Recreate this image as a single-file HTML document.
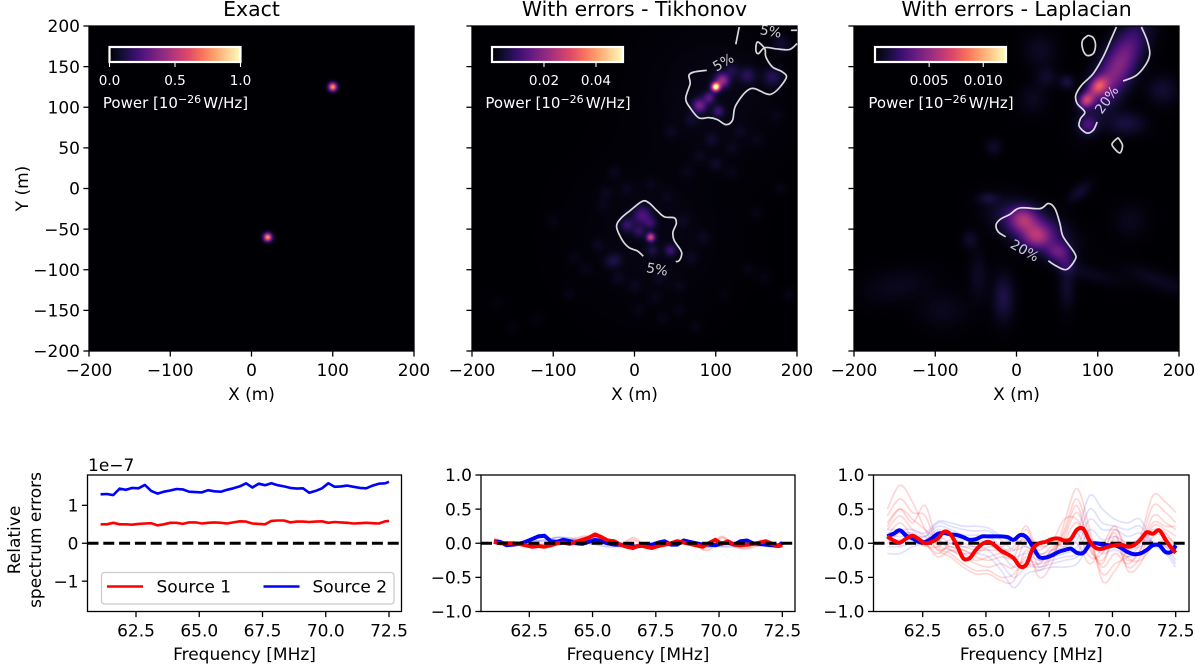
<!DOCTYPE html>
<html lang="en">
<head>
<meta charset="utf-8">
<title>Source power maps and relative spectrum errors</title>
<style>
html,body{margin:0;padding:0;background:#fff;}
#figure{position:relative;width:1200px;height:665px;overflow:hidden;background:#fff;font-family:"DejaVu Sans","Liberation Sans",sans-serif;filter:blur(0.35px);}
canvas{position:absolute;}
svg{position:absolute;left:0;top:0;}
text{font-family:"DejaVu Sans","Liberation Sans",sans-serif;}
</style>
</head>
<body>
<div id="figure">
<canvas id="map-exact" width="325" height="325" style="left:89px;top:26px"></canvas>
<canvas id="map-tik" width="325" height="325" style="left:472px;top:26px"></canvas>
<canvas id="map-lap" width="325" height="325" style="left:854px;top:26px"></canvas>
<svg id="plot" width="1200" height="665" viewBox="0 0 1200 665">
<defs>
<linearGradient id="magma" x1="0" x2="1" y1="0" y2="0">
<stop offset="0" stop-color="#000004"/><stop offset=".1" stop-color="#140e36"/><stop offset=".2" stop-color="#3b0f70"/><stop offset=".3" stop-color="#641a80"/><stop offset=".4" stop-color="#8c2981"/><stop offset=".5" stop-color="#b73779"/><stop offset=".6" stop-color="#de4968"/><stop offset=".7" stop-color="#f7705c"/><stop offset=".8" stop-color="#fe9f6d"/><stop offset=".9" stop-color="#fecf92"/><stop offset="1" stop-color="#fcfdbf"/>
</linearGradient>
</defs>
</svg>
</div>
<script>
// ---------- heatmap data (data coords, metres; values in 1e-26 W/Hz) ----------
const exactBlobX = [100, 20];
const exactBlobY = [125, -60];
const exactBlobAmp = [0.8, 0.8];
const exactBlobSigma = [3.6, 3.6];

const tikBlobX = [100,108,92,80,103,139,170,120,180,20,9.6,-9,5.5,20,44.5,22,-23, 100,20, -30,-45,-20,-60,-75,0,30,55,70,85,60,40,20,-10,-40,80,100,120,150,175,130,95,70,45,65,-80,-120,-150,-170,-100,-25,5,35,75,110,140,160,190,120,150,180,55,25,-35,-5];
const tikBlobY = [125,133,112,102,95,139,137,145,178,-60,-33,-45,-53,-43,-76,-76,-88, 115,-60, -90,-70,-110,-100,-85,-120,-110,-120,-85,-60,-40,-10,5,0,-20,40,30,50,60,90,70,60,85,70,20,-130,-160,-170,-140,-40,20,-150,-160,-170,-130,-100,-110,-130,20,-30,0,-150,-135,-5,30];
const tikBlobAmp = [.052,.02,.012,.016,.009,.007,.007,.005,.004,.028,.011,.008,.007,.007,.009,.005,.004, .0018,.0016, .003,.002,.002,.0015,.0015,.002,.002,.0015,.002,.002,.002,.0015,.0015,.002,.0015,.002,.003,.002,.0015,.0015,.002,.003,.003,.002,.0015,.0015,.001,.001,.001,.0015,.002,.0015,.0015,.0015,.001,.0015,.0015,.0015,.0015,.0015,.0015,.0015,.0015,.002,.002];
const tikBlobSigma = [3.6,6,5,6,5,7,8,6,8,3.6,8,6,5,5,5,5,6, 55,55, 6,6,6,6,6,6,6,6,6,6,6,6,6,6,6,6,6,6,6,6,6,6,6,6,6,6,6,6,6,6,6,6,6,6,6,6,6,6,6,6,6,6,6,6];

const lapBlobX = [100.5,86,125,88,135,180,62,25,18,8,51,61,-16,-47,62,90,78,-28,-35,-57,-147,29,172,37,-90,140,20];
const lapBlobY = [126,108.6,150,78,80,121,131,-60,-47,-37,-78,-92,-135,-108,-120,-105,-4,51,-12,-63,-120,170,-112,137,-150,-40,110];
const lapBlobAmp = [.0055,.0058,.0046,.0024,.0014,.0011,.0014,.0034,.0034,.0030,.0030,.0014,.0016,.0008,.0010,.0006,.0010,.0009,.0011,.0009,.0006,.0008,.0007,.0009,.0006,.0006,.0007];
const lapBlobSigmaA = [9,7,38,8,16,13,6,12,30,11,10,8,9,8,7,30,12,7,9,7,30,14,30,9,20,14,12];
const lapBlobSigmaB = [7,6,14,8,10,12,6,10,15,10,8,8,20,20,20,7,6,7,5,8,14,14,8,9,15,14,12];
const lapBlobAngle = [45,45,62,0,0,0,0,0,-25,0,0,0,0,0,0,-15,40,0,0,0,10,0,-20,0,0,0,0];

// ---------- contour data (data coords) ----------
const tikContours = [
 [[10.8,-83.3],[3.4,-76.8],[-6.8,-72.7],[-15,-63.6],[-22,-47.2],[-17,-37],[-4.8,-26.7],[9.6,-15.7],[17.8,-17.7],[28,-27.6],[37,-35],[48.7,-36],[51.5,-43],[47.4,-53.4],[48.7,-63.6],[56.9,-76],[58,-82],[54.8,-89],[50.7,-90]],
 [[89,145.5],[73.3,143.4],[67,139.3],[68.4,129],[63,110.6],[69.2,98.3],[79.5,86.8],[91.8,87.3],[102,84.8],[112.4,78.6],[120.6,84],[124.7,102.4],[143.2,122.9],[167.8,116],[186.3,135.2],[182.2,143.4],[169.9,149.6],[161.7,161.9],[160.4,172],[151.4,180.3],[149.4,170],[152.6,166],[160.4,173.4],[174,172],[190.5,171],[200,178.3]],
 [[124.7,177.5],[128.8,198.8]],
 [[192.5,194.7],[200,194.7]]
];
const tikContourLabelX = [28,109,167.8];
const tikContourLabelY = [-99,155.7,193.9];
const tikContourLabelAngle = [10,-30,10];
const tikContourLabelText = ["5%","5%","5%"];

const lapContours = [
 [[-13.3,-59.5],[-22.3,-53.4],[-25.2,-45.2],[-20.3,-38.2],[-8,-31.7],[4.3,-23.9],[28.9,-24.7],[39.1,-18.5],[47.3,-24.7],[53.4,-43.1],[57.5,-59.5],[71.8,-80],[71.8,-88.2],[61.6,-99.7],[49.3,-95.6],[39.1,-89]],
 [[131.2,132.3],[147.6,139.3],[159.9,153.7],[164,166],[160.7,182.4],[153.7,198.8]],
 [[123,198.8],[114.8,180.3],[106.6,161.9],[94.4,141.4],[80,127],[73,114.7],[74.7,104.5],[84.1,94.2],[78.8,86],[77.2,76.6],[86.2,68.4],[94.4,71.7],[99.3,81.9]],
 [[88.2,188.5],[94.4,185.7],[97.2,176.2],[94.4,166],[86.2,164],[81.3,172.1],[81.3,182.4],[88.2,188.5]],
 [[125,62.7],[130.4,53.2],[127.1,43.8],[118.9,51.2],[118.1,56.1],[125,62.7]]
];
const lapContourLabelX = [10.4,110.7];
const lapContourLabelY = [-75.9,109.4];
const lapContourLabelAngle = [30,-55];
const lapContourLabelText = ["20%","20%"];

// ---------- axis tick data ----------
const mapXTicks = [-200,-100,0,100,200];
const mapYTicks = [-200,-150,-100,-50,0,50,100,150,200];
const freqTicks = [62.5,65,67.5,70,72.5];
const absErrTicks = [-1,0,1];
const relErrTicks = [-1,-0.5,0,0.5,1];
const exactBarTicks = [0,0.5,1];
const exactBarLabels = ["0.0","0.5","1.0"];
const tikBarTicks = [0.02,0.04];
const tikBarLabels = ["0.02","0.04"];
const lapBarTicks = [0.005,0.010];
const lapBarLabels = ["0.005","0.010"];
const panelTitles = ["Exact","With errors - Tikhonov","With errors - Laplacian"];

// ---------- spectrum series ----------
const freqs = [61.1,61.35,61.6,61.85,62.1,62.35,62.6,62.85,63.1,63.35,63.6,63.85,64.1,64.35,64.6,64.85,65.1,65.35,65.6,65.85,66.1,66.35,66.6,66.85,67.1,67.35,67.6,67.85,68.1,68.35,68.6,68.85,69.1,69.35,69.6,69.85,70.1,70.35,70.6,70.85,71.1,71.35,71.6,71.85,72.1,72.35,72.5];
const freqsCoarse = [61.1,61.6,62.1,62.6,63.1,63.6,64.1,64.6,65.1,65.6,66.1,66.6,67.1,67.6,68.1,68.6,69.1,69.6,70.1,70.6,71.1,71.6,72.1,72.5];

const exactSource1 = [.50,.50,.54,.50,.50,.49,.51,.52,.53,.47,.50,.54,.54,.51,.55,.55,.52,.54,.55,.54,.52,.55,.58,.57,.52,.51,.50,.59,.60,.60,.55,.57,.57,.56,.57,.58,.54,.56,.55,.54,.52,.53,.54,.53,.52,.58,.59];
const exactSource2 = [1.29,1.30,1.27,1.44,1.41,1.46,1.45,1.54,1.38,1.31,1.36,1.39,1.43,1.42,1.36,1.35,1.34,1.40,1.37,1.36,1.41,1.45,1.50,1.58,1.47,1.57,1.53,1.58,1.53,1.50,1.46,1.44,1.45,1.33,1.38,1.45,1.58,1.49,1.50,1.52,1.49,1.46,1.45,1.52,1.57,1.58,1.62];

const tikSource1 = [.02,0,0,0,-.01,-.03,-.05,-.04,-.05,-.03,0,.01,-.01,.02,.05,.08,.13,.09,.04,.03,-.02,-.05,-.07,-.03,-.05,-.07,-.04,-.02,0,.03,.01,-.01,-.03,-.05,0,.05,-.01,.03,-.02,-.03,-.02,-.01,.01,.03,-.01,-.04,-.03];
const tikSource2 = [.03,.02,-.03,-.02,-.01,.02,.06,.10,.11,.03,.02,.05,.03,0,-.01,.02,.05,.03,0,-.02,-.02,-.03,-.05,-.04,-.03,-.02,.01,.03,-.02,-.02,.04,.02,0,-.02,-.02,-.03,0,.01,-.02,.03,.04,0,-.01,-.02,-.03,-.04,.01];
const tikFaintRed = [
 [.08,0,0,-.02,0,.05,.05,.1,.1,.02,-.02,.08,-.03,-.02,.02,0,-.05,-.1,.08,-.05,-.08,-.03,-.02,-.04],
 [.04,.02,-.03,-.03,-.03,.03,.03,.07,.08,.03,-.05,.05,-.05,-.05,0,.03,-.03,-.06,.1,-.03,-.06,0,0,-.02]
];
const tikFaintBlue = [
 [.04,-.02,0,.04,.03,.09,.06,.02,-.02,-.05,-.05,-.07,-.05,-.03,-.01,.01,-.03,-.05,-.04,-.02,-.02,-.03,-.05,-.02],
 [0,.01,.02,.02,.05,.08,.08,.03,.02,-.02,-.03,-.04,-.03,-.05,-.03,.03,-.01,-.02,-.05,-.05,-.01,-.04,-.02,0]
];

const lapSource1 = [.10,.04,.01,.07,.11,.06,0,.02,.07,.17,.13,-.03,-.22,-.22,-.10,-.01,.02,-.03,-.11,-.16,-.22,-.34,-.31,-.08,0,.02,.06,.07,.04,.06,.20,.21,.03,-.07,-.08,-.05,-.03,-.02,-.05,-.03,.05,.16,.14,.19,.05,-.08,-.14];
const lapSource2 = [.10,.14,.19,.11,.07,.02,.02,.07,.14,.15,.13,.12,.09,.05,.06,.10,.10,.10,.10,.09,.05,.12,.09,-.05,-.20,-.21,-.18,-.13,-.10,-.08,-.14,-.14,-.02,0,-.02,-.03,-.03,-.07,-.13,-.16,-.15,-.10,-.03,-.03,-.13,-.12,-.03];
const lapFaintRed = [
 [.5,.85,.6,.2,-.1,-.2,-.35,-.45,-.45,-.55,-.55,-.1,-.5,-.3,.3,.8,.2,-.55,-.4,-.1,.1,.7,.6,.45],
 [.4,.65,.45,.4,-.05,-.15,-.3,-.4,-.4,-.5,-.45,-.2,-.4,-.2,.2,.65,.1,-.45,-.3,-.2,0,.55,.45,.3],
 [.3,.5,.3,.55,0,-.1,-.2,-.3,-.35,-.3,-.35,.05,-.35,-.15,.1,.45,0,-.35,-.15,-.3,-.1,.4,.3,.2],
 [.2,.4,.2,.1,-.1,-.05,-.1,-.2,-.25,-.2,-.2,.2,-.25,-.1,.05,.3,-.1,-.25,.05,-.35,-.2,.25,.2,.1],
 [.1,.3,.1,0,-.15,0,-.05,-.1,-.1,-.1,-.05,.25,-.15,-.05,0,.15,-.2,-.15,.15,-.4,-.3,.1,.1,0],
 [0,.15,.05,-.05,-.05,.05,0,-.05,0,-.05,.05,-.05,-.1,0,-.05,0,-.3,-.05,.25,-.2,-.25,-.05,.05,-.1],
 [.05,.2,.1,0,-.2,-.1,-.15,-.25,-.2,-.15,-.25,-.3,-.3,-.1,.15,.55,-.05,-.3,.1,-.25,-.1,.3,.25,.25],
 [.25,.5,.35,.2,.05,-.05,-.1,-.15,-.05,-.1,-.1,.1,-.05,.02,.35,.35,.05,-.1,.2,-.05,.05,.2,.15,-.05]
];
const lapFaintBlue = [
 [-.15,-.15,-.05,0,.05,-.1,-.15,-.15,-.2,-.4,-.65,-.45,-.4,-.35,-.35,-.3,-.05,-.15,-.1,-.2,-.15,-.05,-.15,-.35],
 [-.05,-.05,0,0,.1,0,-.05,-.05,-.1,-.3,-.5,-.35,-.35,-.3,-.25,-.2,.05,-.05,0,-.1,-.05,0,-.1,-.3],
 [.05,.05,.05,.05,.2,.1,.05,.05,0,-.15,-.35,-.25,-.3,-.25,-.2,-.15,.2,.05,.1,0,.05,.02,-.05,-.25],
 [.1,.1,.1,.1,.25,.2,.12,.12,.1,-.05,-.2,-.15,-.25,-.2,-.15,-.05,.35,.2,.2,.1,.15,0,-.05,-.15],
 [.15,.15,.15,.1,.3,.25,.2,.18,.18,.05,-.1,-.05,-.2,-.15,-.1,.05,.5,.3,.25,.2,.25,0,-.03,-.1],
 [.2,.2,.2,.15,.32,.3,.25,.25,.22,.1,0,.05,-.15,-.1,-.05,.15,.7,.5,.35,.3,.35,.02,-.02,-.05]
];

// ---------- helpers ----------
const NS = "http://www.w3.org/2000/svg";
const svg = document.getElementById("plot");
function mk(tag, attrs, parent){
  const e = document.createElementNS(NS, tag);
  for (const k in attrs) e.setAttribute(k, attrs[k]);
  (parent || svg).appendChild(e);
  return e;
}
function minusFmt(s){ return String(s).replace("-", "\u2212"); }
const magmaStops = [[0,0,4],[20,14,54],[59,15,112],[100,26,128],[140,41,129],[183,55,121],[222,73,104],[247,112,92],[254,159,109],[254,207,146],[252,253,191]];
function magma(t){
  t = Math.max(0, Math.min(1, t)) * 10;
  const i = Math.min(9, Math.floor(t)), f = t - i, a = magmaStops[i], b = magmaStops[i + 1];
  return [a[0] + (b[0] - a[0]) * f, a[1] + (b[1] - a[1]) * f, a[2] + (b[2] - a[2]) * f];
}
function drawMap(id, vmax, xs, ys, amps, sa, sb, angs){
  const c = document.getElementById(id), ctx = c.getContext("2d");
  const img = ctx.createImageData(325, 325);
  const pre = xs.map((_, k) => {
    const th = (angs ? angs[k] : 0) * Math.PI / 180;
    return [Math.cos(th), Math.sin(th), sa[k], sb ? sb[k] : sa[k]];
  });
  for (let py = 0; py < 325; py++) {
    const dy = 200 - (py + 0.5) / 325 * 400;
    for (let px = 0; px < 325; px++) {
      const dx = -200 + (px + 0.5) / 325 * 400;
      let v = 0;
      for (let k = 0; k < xs.length; k++) {
        const ex = dx - xs[k], ey = dy - ys[k], p = pre[k];
        const u = (ex * p[0] + ey * p[1]) / p[2], w = (-ex * p[1] + ey * p[0]) / p[3];
        const q = u * u + w * w;
        if (q < 25) v += amps[k] * Math.exp(-0.5 * q);
      }
      const col = magma(v / vmax), o = (py * 325 + px) * 4;
      img.data[o] = col[0]; img.data[o + 1] = col[1]; img.data[o + 2] = col[2]; img.data[o + 3] = 255;
    }
  }
  ctx.putImageData(img, 0, 0);
}
function smoothPath(pts){
  let d = "M" + pts[0][0].toFixed(1) + " " + pts[0][1].toFixed(1);
  for (let i = 0; i < pts.length - 1; i++) {
    const p0 = pts[Math.max(0, i - 1)], p1 = pts[i], p2 = pts[i + 1], p3 = pts[Math.min(pts.length - 1, i + 2)];
    const c1x = p1[0] + (p2[0] - p0[0]) / 6, c1y = p1[1] + (p2[1] - p0[1]) / 6;
    const c2x = p2[0] - (p3[0] - p1[0]) / 6, c2y = p2[1] - (p3[1] - p1[1]) / 6;
    d += "C" + c1x.toFixed(1) + " " + c1y.toFixed(1) + " " + c2x.toFixed(1) + " " + c2y.toFixed(1) + " " + p2[0].toFixed(1) + " " + p2[1].toFixed(1);
  }
  return d;
}

// ---------- heatmaps ----------
drawMap("map-exact", 1, exactBlobX, exactBlobY, exactBlobAmp, exactBlobSigma);
drawMap("map-tik", 0.0504, tikBlobX, tikBlobY, tikBlobAmp, tikBlobSigma);
drawMap("map-lap", 0.0121, lapBlobX, lapBlobY, lapBlobAmp, lapBlobSigmaA, lapBlobSigmaB, lapBlobAngle);

// ---------- top panels ----------
const TOP = 26, SIZE = 325, TICK_FONT = 17;
function drawMapAxes(x0, title, showY, key){
  const sx = v => x0 + (v + 200) / 400 * SIZE;
  const sy = v => TOP + (200 - v) / 400 * SIZE;
  const g = mk("g", {});
  
  
  const frame = mk("rect", {x:x0, y:TOP, width:SIZE, height:SIZE, fill:"none", stroke:"#000", "stroke-width":1.3}, g);
  
  
  const ttl = mk("text", {x:x0 + SIZE / 2, y:16, "font-size":20.4, "text-anchor":"middle", fill:"#000"}, g);
  ttl.textContent = title;
  
  
  mapXTicks.forEach(v => {
    const t = mk("line", {x1:sx(v), x2:sx(v), y1:TOP + SIZE, y2:TOP + SIZE + 5.6, stroke:"#000", "stroke-width":1.3}, g);
    
    
    const l = mk("text", {x:sx(v), y:TOP + SIZE + 25, "font-size":TICK_FONT, "text-anchor":"middle", fill:"#000"}, g);
    l.textContent = minusFmt(v);
    
    
  });
  mapYTicks.forEach(v => {
    const t = mk("line", {x1:x0 - 5.6, x2:x0, y1:sy(v), y2:sy(v), stroke:"#000", "stroke-width":1.3}, g);
    
    
    if (showY) {
      const l = mk("text", {x:x0 - 9, y:sy(v) + 6.2, "font-size":TICK_FONT, "text-anchor":"end", fill:"#000"}, g);
      l.textContent = minusFmt(v);
      
      
    }
  });
  const xt = mk("text", {x:x0 + SIZE / 2, y:400, "font-size":TICK_FONT, "text-anchor":"middle", fill:"#000"}, g);
  xt.textContent = "X (m)";
  
  
  if (showY) {
    const yt = mk("text", {x:0, y:0, "font-size":TICK_FONT, "text-anchor":"middle", fill:"#000", transform:"translate(28 188.5) rotate(-90)"}, g);
    yt.textContent = "Y (m)";
    
    
  }
  return {sx, sy};
}
const axExact = drawMapAxes(89, panelTitles[0], true, "exact");
const axTik = drawMapAxes(472, panelTitles[1], false, "tikhonov");
const axLap = drawMapAxes(854, panelTitles[2], false, "laplacian");

function drawContours(ax, lines, lx, ly, la, lt, key){
  const g = mk("g", {});
  
  
  lines.forEach(pts => {
    const p = mk("path", {d:smoothPath(pts.map(q => [ax.sx(q[0]), ax.sy(q[1])])), fill:"none", stroke:"#fff", "stroke-opacity":.85, "stroke-width":1.7}, g);
    
    
  });
  lx.forEach((v, i) => {
    const X = ax.sx(v), Y = ax.sy(ly[i]);
    const t = mk("text", {x:0, y:5, "font-size":13.6, "text-anchor":"middle", fill:"#fff", "fill-opacity":.8, transform:"translate(" + X + " " + Y + ") rotate(" + la[i] + ")"}, g);
    t.textContent = lt[i];
    
    
  });
}
drawContours(axTik, tikContours, tikContourLabelX, tikContourLabelY, tikContourLabelAngle, tikContourLabelText, "tikhonov");
drawContours(axLap, lapContours, lapContourLabelX, lapContourLabelY, lapContourLabelAngle, lapContourLabelText, "laplacian");

function drawColorbar(x0, v0, v1, ticks, labels, key){
  const W = 131, Y0 = 47, H = 15;
  const g = mk("g", {});
  
  
  const r = mk("rect", {x:x0, y:Y0, width:W, height:H, fill:"url(#magma)", stroke:"#fff", "stroke-width":2.2}, g);
  
  
  ticks.forEach((v, i) => {
    const X = x0 + (v - v0) / (v1 - v0) * W;
    const t = mk("line", {x1:X, x2:X, y1:Y0 + H, y2:Y0 + H + 5, stroke:"#fff", "stroke-width":1.1}, g);
    
    
    const l = mk("text", {x:X, y:85, "font-size":13.6, "text-anchor":"middle", fill:"#fff"}, g);
    l.textContent = labels[i];
    
    
  });
  const c = mk("text", {x:x0 + 66, y:108, "font-size":15, "text-anchor":"middle", fill:"#fff"}, g);
  
  
  const a = mk("tspan", {}, c); a.textContent = "Power [10";
  const b = mk("tspan", {dy:-5, "font-size":11}, c); b.textContent = "\u221226";
  const d = mk("tspan", {dy:5, dx:2}, c); d.textContent = "W/Hz]";
}
drawColorbar(109.5, 0, 1, exactBarTicks, exactBarLabels, "exact");
drawColorbar(492, 0, 0.0504, tikBarTicks, tikBarLabels, "tikhonov");
drawColorbar(875, 0, 0.0121, lapBarTicks, lapBarLabels, "laplacian");

// ---------- bottom panels ----------
const BT = 475, BB = 611.5;
function drawSpecAxes(x0, x1, f625, yTicks, yDomain, fmt, key){
  const fx = f => f625 + (f - 62.5) * 25.3;
  const fy = v => BT + (yDomain[1] - v) / (yDomain[1] - yDomain[0]) * (BB - BT);
  const g = mk("g", {});
  
  
  const bg = mk("g", {}, g);
  
  
  const fr = mk("rect", {x:x0, y:BT, width:x1 - x0, height:BB - BT, fill:"none", stroke:"#000", "stroke-width":1.3}, g);
  
  
  freqTicks.forEach(v => {
    const t = mk("line", {x1:fx(v), x2:fx(v), y1:BB, y2:BB + 5.6, stroke:"#000", "stroke-width":1.3}, g);
    
    
    const l = mk("text", {x:fx(v), y:BB + 25, "font-size":TICK_FONT, "text-anchor":"middle", fill:"#000"}, g);
    l.textContent = v.toFixed(1);
    
    
  });
  yTicks.forEach(v => {
    const t = mk("line", {x1:x0 - 5.6, x2:x0, y1:fy(v), y2:fy(v), stroke:"#000", "stroke-width":1.3}, g);
    
    
    const l = mk("text", {x:x0 - 9, y:fy(v) + 6.2, "font-size":TICK_FONT, "text-anchor":"end", fill:"#000"}, g);
    l.textContent = minusFmt(fmt(v));
    
    
  });
  const xt = mk("text", {x:(x0 + x1) / 2, y:660, "font-size":TICK_FONT, "text-anchor":"middle", fill:"#000"}, g);
  xt.textContent = "Frequency [MHz]";
  
  
  return {fx, fy, bg, x0, x1};
}
function drawSeries(ax, xs, ys, color, width, opacity, name, smooth){
  const pts = ys.map((v, i) => [ax.fx(xs[i]), ax.fy(v)]);
  const d = smooth ? smoothPath(pts) : pts.map((p, i) => (i ? "L" : "M") + p[0].toFixed(1) + " " + p[1].toFixed(1)).join("");
  const p = mk("path", {d:d, fill:"none", stroke:color, "stroke-width":width, "stroke-opacity":opacity, "stroke-linejoin":"round"}, ax.bg);
  
  
}
function drawZero(ax){
  const z = mk("line", {x1:ax.x0, x2:ax.x1, y1:ax.fy(0), y2:ax.fy(0), stroke:"#000", "stroke-width":3, "stroke-dasharray":"11 4.8"}, ax.bg);
  
  
}
const yFmt = v => v.toFixed(1);
const axA = drawSpecAxes(87.5, 401.5, 136, absErrTicks, [-1.8, 1.8], v => String(v), "exact");
const axB = drawSpecAxes(481, 795, 529.3, relErrTicks, [-1, 1], yFmt, "tikhonov");
const axC = drawSpecAxes(873.5, 1189, 922.7, relErrTicks, [-1, 1], yFmt, "laplacian");

drawSeries(axA, freqs, exactSource1, "#ff0000", 2.6, 1, "source-1-line");
drawSeries(axA, freqs, exactSource2, "#0000ff", 2.6, 1, "source-2-line");
drawZero(axA);

tikFaintRed.forEach(s => drawSeries(axB, freqsCoarse, s, "#ff0000", 1.7, .22, "source-1-faint-line", true));
tikFaintBlue.forEach(s => drawSeries(axB, freqsCoarse, s, "#0000ff", 1.7, .18, "source-2-faint-line", true));
drawSeries(axB, freqs, tikSource2, "#0000ff", 4, 1, "source-2-line");
drawSeries(axB, freqs, tikSource1, "#ff0000", 4, 1, "source-1-line");
drawZero(axB);

lapFaintRed.forEach(s => drawSeries(axC, freqsCoarse, s, "#ff0000", 1.7, .16, "source-1-faint-line", true));
lapFaintBlue.forEach(s => drawSeries(axC, freqsCoarse, s, "#0000ff", 1.7, .12, "source-2-faint-line", true));
drawZero(axC);
drawSeries(axC, freqs, lapSource2, "#0000ff", 4, 1, "source-2-line", true);
drawSeries(axC, freqs, lapSource1, "#ff0000", 4, 1, "source-1-line", true);

// offset text and y title
const off = mk("text", {x:88, y:471, "font-size":TICK_FONT, fill:"#000"});
off.textContent = "1e\u22127";


const yl1 = mk("text", {x:0, y:0, "font-size":TICK_FONT, "text-anchor":"middle", fill:"#000", transform:"translate(20 540) rotate(-90)"});
yl1.textContent = "Relative";


const yl2 = mk("text", {x:0, y:0, "font-size":TICK_FONT, "text-anchor":"middle", fill:"#000", transform:"translate(41 540) rotate(-90)"});
yl2.textContent = "spectrum errors";



// legend
const lg = mk("g", {});


const lb = mk("rect", {x:101.5, y:572.5, width:292.5, height:31.5, rx:3, fill:"#fff", "fill-opacity":.8, stroke:"#ccc", "stroke-width":1.3}, lg);


const l1 = mk("line", {x1:107, x2:143, y1:586.5, y2:586.5, stroke:"#ff0000", "stroke-width":2.6}, lg);


const t1 = mk("text", {x:156.5, y:592.5, "font-size":TICK_FONT, fill:"#000"}, lg);
t1.textContent = "Source 1";


const l2 = mk("line", {x1:263.5, x2:299.5, y1:586.5, y2:586.5, stroke:"#0000ff", "stroke-width":2.6}, lg);


const t2 = mk("text", {x:312.5, y:592.5, "font-size":TICK_FONT, fill:"#000"}, lg);
t2.textContent = "Source 2";


</script>
</body>
</html>
